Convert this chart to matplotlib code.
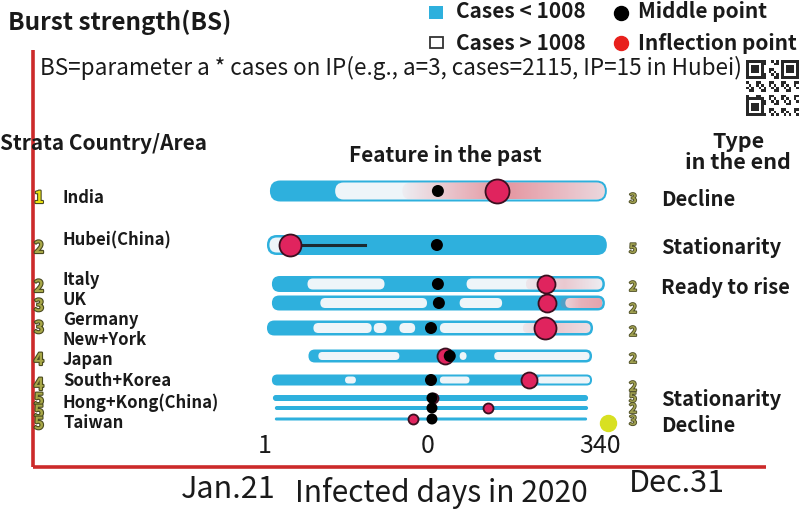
import numpy as np
import matplotlib
matplotlib.use('Agg')
import matplotlib.pyplot as plt
from matplotlib.patches import FancyBboxPatch, Rectangle
import matplotlib.patheffects as pe
from matplotlib.colors import to_rgb

f_main = 'Noto Sans CJK SC'

# ---------------- datos ----------------
countries = ['India', 'Hubei(China)', 'Italy', 'UK', 'Germany', 'New+York', 'Japan',
             'South+Korea', 'Hong+Kong(China)', 'Taiwan']
strata = [1, 2, 2, 3, 3, 4, 4, 5, 5, 5]
end_num = [3, 5, 2, 2, 2, 2, 2, 5, 2, 3]
bar_start = [6, 3, 8, 8, 3, 45, 8, 9, 11, 11]
bar_end = [347, 347, 345, 345, 333, 332, 332, 328, 328, 327]
# tramos con casos > 1008
white_segs = [[(72, 347)],
              [(3, 36)],
              [(44, 122), (205, 345)],
              [(57, 165), (198, 241), (305, 345)],
              [(50, 109), (111, 124), (137, 153), (178, 333)],
              [(55, 137), (198, 205), (233, 332)],
              [(82, 93), (178, 208), (277, 332)],
              [], [], []]
# tramos rojizos (inicio, fin, intensidad izq, centro, der)
pink_segs = [[(140, 347, 0.05, 0.65, 0.2)],
             [], [(265, 345, 0.1, 0.3, 0.05)],
             [(300, 345, 0.15, 0.45, 0.55)],
             [(262, 333, 0.1, 0.3, 0.15)],
             [], [], [], [], []]
middle_day = [176, 175, 176, 177, 169, 188, 169, 170, 170, 170]
infl_day = [236, 26, 285, 286, 284, 183, 268, 171, 227, 151]
infl_size = [12, 11, 9, 9, 11, 8, 8, 5, 5, 5]
hubei_line_end = 102
end_types = ['Decline', 'Stationarity', 'Ready to rise', 'Stationarity', 'Decline']
tick_days = [1, 166, 340]
tick_labels = ['1', '0', '340']

# ---------------- diseño ----------------
row_y = [191, 245, 284, 303, 328, 356, 380, 398, 408, 419]
row_h = [21, 20, 16, 15, 15, 13, 11, 6, 4, 3]
label_y = [198, 240, 280, 300, 320, 340, 360, 381, 403, 423]
strata_y = [198, 248, 287, 306, 328, 360, 385, 400, 412, 424]
endnum_y = [199, 249, 287, 309, 332, 359, 387, 398, 409, 421]
type_y = [199, 248, 287, 400, 425]

azul = '#2EB0DD'
blanco = '#EEF5F9'
rosa = to_rgb('#E0606E')
rojo = '#E0245E'
borde = '#3A1020'
rojo_eje = '#CC2A2A'
negro = '#1A1A1A'

fig = plt.figure(figsize=(8, 5.17), dpi=100)
fig.patch.set_facecolor('white')

# ejes en dias (x) y pixeles (y)
axd = fig.add_axes([0, 0, 1, 1])
axd.set_xlim(1 - 265 / 0.988, 1 + 535 / 0.988)
axd.set_ylim(517, 0)
axd.axis('off')

# ejes en pixeles para textos
ax = fig.add_axes([0, 0, 1, 1], zorder=5)
ax.set_xlim(0, 800)
ax.set_ylim(517, 0)
ax.axis('off')
ax.patch.set_alpha(0)


def capsula(x0, x1, y, h, **kw):
    return FancyBboxPatch((x0, y - h / 2), x1 - x0, h,
                          boxstyle=f'round,pad=0,rounding_size={h / 2 - 0.01}', **kw)


# ejes rojos
ax.plot([33, 33], [50, 467], color=rojo_eje, lw=2.6, solid_capstyle='butt', zorder=1)
ax.plot([33, 766], [467, 467], color=rojo_eje, lw=2.6, solid_capstyle='butt', zorder=1)

for i in range(len(countries)):
    y, h = row_y[i], row_h[i]
    x0, x1 = bar_start[i], bar_end[i]
    axd.add_patch(capsula(x0, x1, y, h, facecolor=azul, edgecolor='none', zorder=2))
    inset = 2.5 if h > 12 else 2
    if i == 0:
        inset = 2
    hh = h - 2 * inset
    for (a, b) in white_segs[i]:
        a2 = max(a, x0 + inset)
        b2 = min(b, x1 - inset)
        axd.add_patch(capsula(a2, b2, y, hh, facecolor=blanco, edgecolor='none', zorder=3))
    for (a, b, al, am, ar) in pink_segs[i]:
        b2 = min(b, x1 - inset)
        clip = capsula(max(a, x0 + inset), b2, y, hh, facecolor='none', edgecolor='none')
        axd.add_patch(clip)
        n = 200
        t = np.linspace(0, 1, n)
        alpha = np.interp(t, [0, 0.5, 1], [al, am, ar])
        img = np.zeros((1, n, 4))
        img[0, :, :3] = rosa
        img[0, :, 3] = alpha
        im = axd.imshow(img, extent=(a, b2, y + hh / 2, y - hh / 2), aspect='auto',
                        interpolation='bilinear', zorder=4)
        im.set_clip_path(clip)
    # punto de inflexion
    axd.scatter([infl_day[i]], [y], s=(2 * infl_size[i] * 0.72) ** 2, color=rojo,
                edgecolors=borde, linewidths=1.3, zorder=6)
    # punto medio
    r_m = 6 if h > 8 else 5.5
    axd.scatter([middle_day[i]], [y], s=(2 * r_m * 0.72) ** 2, color='black',
                edgecolors='none', zorder=7)

# linea negra de Hubei
axd.plot([infl_day[1], hubei_line_end], [row_y[1], row_y[1]], color='#1C2A30', lw=2.2,
         zorder=5)

# etiquetas de paises
for i, c in enumerate(countries):
    ax.text(63, label_y[i], c, fontsize=12, family=f_main, va='center', ha='left',
            color=negro, weight='bold')

# numeros de estrato
for i, s in enumerate(strata):
    col = '#E8E010' if s == 1 else '#A8A848'
    ax.text(39, strata_y[i], str(s), fontsize=12, family=f_main, weight='bold',
            va='center', ha='center', color=col, zorder=3,
            path_effects=[pe.withStroke(linewidth=1.6, foreground='#4A4A20')])

# numeros finales
for i, s in enumerate(end_num):
    ax.text(633, endnum_y[i], str(s), fontsize=9.5, family=f_main, weight='bold',
            va='center', ha='center', color='#A0A050',
            path_effects=[pe.withStroke(linewidth=1.3, foreground='#505028')])

# tipo final
for t, yy in zip(end_types, type_y):
    ax.text(661, yy, t, fontsize=14.5, family=f_main, va='center', ha='left',
            color=negro, weight='bold')

# punto amarillo de Taiwan
ax.scatter([608], [423], s=(16 * 0.72) ** 2, color='#D8E021', zorder=6)

# cabeceras
ax.text(0, 143, 'Strata Country/Area', fontsize=15, family=f_main, va='center',
        ha='left', color=negro, weight='bold')
ax.text(445, 155, 'Feature in the past', fontsize=15, family=f_main, va='center',
        ha='center', color=negro, weight='bold')
ax.text(738, 152, 'Type\nin the end', fontsize=15.5, family=f_main, va='center',
        ha='center', color=negro, weight='bold', linespacing=1.0)

# titulo y formula
ax.text(8, 22, 'Burst strength(BS)', fontsize=17.5, family=f_main, va='center', ha='left',
        color=negro, weight='bold')
ax.text(40, 68, 'BS=parameter a * cases on IP(e.g., a=3, cases=2115, IP=15 in Hubei)',
        fontsize=16.2, family=f_main, va='center', ha='left', color=negro)

# leyenda
ax.add_patch(Rectangle((429, 6), 14, 13, facecolor=azul, edgecolor='none'))
ax.add_patch(Rectangle((430, 37), 13, 11, facecolor='white', edgecolor='#333333', lw=1.3))
ax.text(456, 12, 'Cases < 1008', fontsize=15, family=f_main, va='center', ha='left',
        color=negro, weight='bold')
ax.text(456, 43, 'Cases > 1008', fontsize=15, family=f_main, va='center', ha='left',
        color=negro, weight='bold')
ax.scatter([621], [13], s=(14 * 0.72) ** 2, color='black')
ax.scatter([621], [43], s=(14 * 0.72) ** 2, color='#E8201C')
ax.text(638, 12, 'Middle point', fontsize=15, family=f_main, va='center', ha='left',
        color=negro, weight='bold')
ax.text(638, 43, 'Inflection point', fontsize=15, family=f_main, va='center', ha='left',
        color=negro, weight='bold')

# codigo QR (decorativo)
qr = np.ones((21, 21))
ii, jj = np.meshgrid(np.arange(21), np.arange(21), indexing='ij')
qr[((ii * 7 + jj * 3 + ii * jj) % 5) < 2] = 0
for (r0, c0) in [(0, 0), (0, 14), (14, 0)]:
    qr[r0:r0 + 7, c0:c0 + 7] = 1
    qr[r0:r0 + 7, c0] = 0
    qr[r0:r0 + 7, c0 + 6] = 0
    qr[r0, c0:c0 + 7] = 0
    qr[r0 + 6, c0:c0 + 7] = 0
    qr[r0 + 2:r0 + 5, c0 + 2:c0 + 5] = 0
ax.imshow(qr, cmap='gray', extent=(746, 799, 116, 60), interpolation='nearest',
          aspect='auto', zorder=2, alpha=0.85)

# eje x
for d, lab in zip(tick_days, tick_labels):
    axd.text(d, 446, lab, fontsize=18, family=f_main, va='center', ha='center',
             color=negro)
ax.text(228, 489, 'Jan.21', fontsize=22, family=f_main, va='center', ha='center',
        color=negro)
ax.text(441, 493, 'Infected days in 2020', fontsize=21.5, family=f_main, va='center',
        ha='center', color=negro)
ax.text(677, 484, 'Dec.31', fontsize=22, family=f_main, va='center', ha='center',
        color=negro)

fig.savefig('out.png', dpi=100)
